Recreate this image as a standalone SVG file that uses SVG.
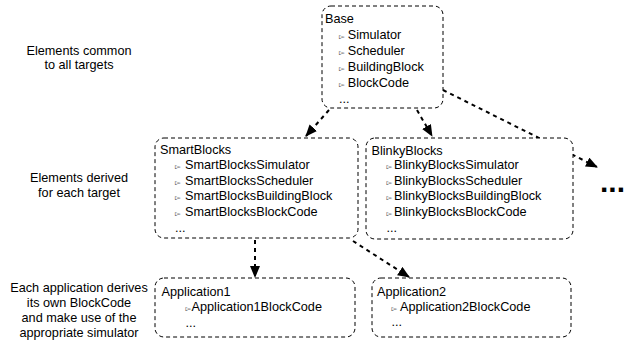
<svg xmlns="http://www.w3.org/2000/svg" width="626" height="341" viewBox="0 0 626 341">
<style>
text{font-family:"Liberation Sans",Arial,sans-serif;font-size:12.7px;fill:#000}
.lbl{text-anchor:middle}
.b{font-family:"DejaVu Sans",sans-serif;font-size:7.5px;fill:#333}
.box{fill:#fff;stroke:#000;stroke-width:1;stroke-dasharray:4 3}
.con{fill:none;stroke:#000;stroke-width:2;stroke-dasharray:4 4}
</style>
<defs>
<marker id="ah" viewBox="0 0 12 10" refX="11" refY="5" markerWidth="12" markerHeight="10" markerUnits="userSpaceOnUse" orient="auto">
<path d="M0,0 L12,5 L0,10 Z" fill="#000"/>
</marker>
</defs>
<rect width="626" height="341" fill="#fff"/>
<g id="labels">
<text class="lbl" x="79" y="54.5">Elements common</text>
<text class="lbl" x="79" y="69">to all targets</text>
<text class="lbl" x="79" y="181.5">Elements derived</text>
<text class="lbl" x="79" y="197">for each target</text>
<text class="lbl" x="79" y="292">Each application derives</text>
<text class="lbl" x="79" y="307">its own BlockCode</text>
<text class="lbl" x="79" y="322">and make use of the</text>
<text class="lbl" x="79" y="337">appropriate simulator</text>
</g>
<g id="connectors">
<line class="con" x1="329" y1="110" x2="306" y2="136" marker-end="url(#ah)"/>
<line class="con" x1="417" y1="110" x2="432" y2="136" marker-end="url(#ah)"/>
<line class="con" x1="443" y1="90" x2="597" y2="167" marker-end="url(#ah)"/>
<line class="con" x1="255" y1="240" x2="255" y2="277" marker-end="url(#ah)"/>
<line class="con" x1="353" y1="241" x2="409" y2="277" marker-end="url(#ah)"/>
<text x="600" y="192" style="font-size:30px;font-weight:bold">...</text>
</g>
<g id="base">
<rect class="box" x="322" y="6" width="121" height="102" rx="9"/>
<text x="325" y="22.5">Base</text>
<text x="339" y="39"><tspan class="b">▻</tspan><tspan x="347.7">Simulator</tspan></text>
<text x="339" y="55"><tspan class="b">▻</tspan><tspan x="347.7">Scheduler</tspan></text>
<text x="339" y="71"><tspan class="b">▻</tspan><tspan x="347.7">BuildingBlock</tspan></text>
<text x="339" y="86.5"><tspan class="b">▻</tspan><tspan x="347.7">BlockCode</tspan></text>
<text x="339" y="103">...</text>
</g>
<g id="smartblocks">
<rect class="box" x="155" y="138" width="203" height="100" rx="9"/>
<text x="160" y="154">SmartBlocks</text>
<text x="175" y="168.5"><tspan class="b">▻</tspan><tspan x="185">SmartBlocksSimulator</tspan></text>
<text x="175" y="184.5"><tspan class="b">▻</tspan><tspan x="185">SmartBlocksScheduler</tspan></text>
<text x="175" y="200"><tspan class="b">▻</tspan><tspan x="185">SmartBlocksBuildingBlock</tspan></text>
<text x="175" y="216"><tspan class="b">▻</tspan><tspan x="185">SmartBlocksBlockCode</tspan></text>
<text x="175" y="232">...</text>
</g>
<g id="blinkyblocks">
<rect class="box" x="366" y="138" width="207" height="101" rx="9"/>
<text x="371.5" y="154.5">BlinkyBlocks</text>
<text x="386.5" y="168.5"><tspan class="b">▻</tspan><tspan x="394">BlinkyBlocksSimulator</tspan></text>
<text x="386.5" y="184.5"><tspan class="b">▻</tspan><tspan x="394">BlinkyBlocksScheduler</tspan></text>
<text x="386.5" y="200"><tspan class="b">▻</tspan><tspan x="394">BlinkyBlocksBuildingBlock</tspan></text>
<text x="386.5" y="216"><tspan class="b">▻</tspan><tspan x="394">BlinkyBlocksBlockCode</tspan></text>
<text x="386.5" y="232">...</text>
</g>
<g id="application1">
<rect class="box" x="155" y="278" width="200" height="59" rx="9"/>
<text x="161.5" y="296">Application1</text>
<text x="185.5" y="311"><tspan class="b">▻</tspan><tspan x="191.5">Application1BlockCode</tspan></text>
<text x="185.5" y="327">...</text>
</g>
<g id="application2">
<rect class="box" x="372" y="278" width="199" height="59" rx="9"/>
<text x="377" y="296">Application2</text>
<text x="391.5" y="311"><tspan class="b">▻</tspan><tspan x="400">Application2BlockCode</tspan></text>
<text x="391.5" y="326">...</text>
</g>
</svg>
